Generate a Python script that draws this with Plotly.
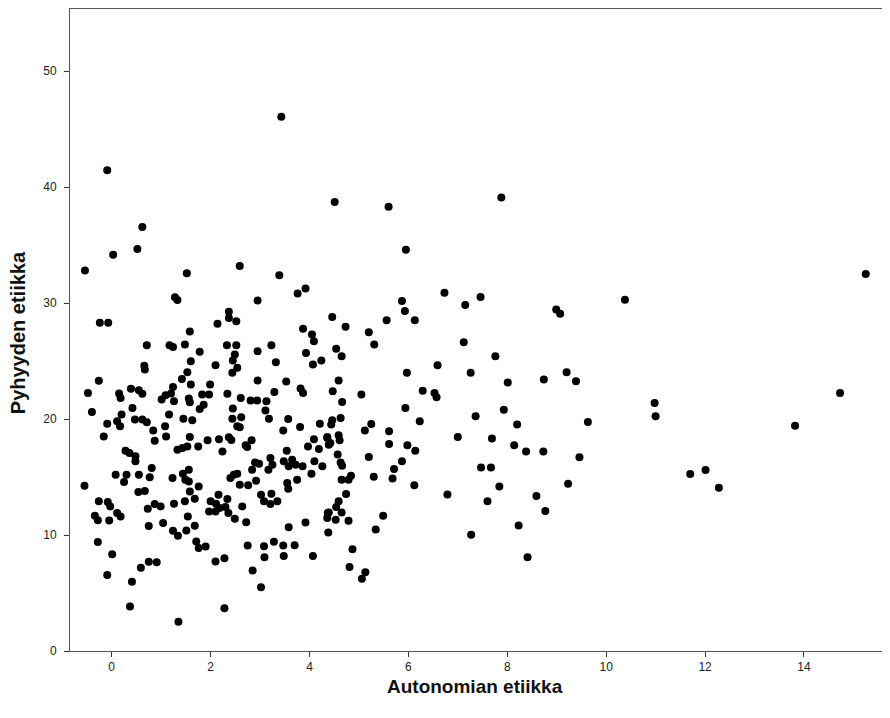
import plotly.graph_objects as go

autonomia = [
    3.43, -0.09, 0.62, 0.03, 0.52, -0.54, 1.52, 2.59, 3.39, 4.51, 5.6, 7.88, 5.95, 15.25,
    1.28, 1.33, -0.24, -0.07, 1.58, 0.71, 1.17, 1.24, 1.48, 1.78, 1.6, 0.66, 0.67, 1.53,
    1.42, -0.26, 1.6, 1.24, -0.48, 0.15, 0.18, 0.39, 0.55, 0.62, 1.09, 1.2, 1.01, 1.26,
    1.56, 1.58, 1.78, -0.4, 0.42, 0.2, 1.16, 1.45, 1.63, -0.09, 0.11, 0.17, 0.47, 0.62,
    0.71, 0.84, 1.08, -0.16, 0.87, 1.1, 1.58, 1.33, 1.43, 1.53, 0.28, 0.36, 1.75,
    0.48, 0.48, 0.81, 0.08, 0.3, 0.25, 0.55, 0.77, -0.55, 1.23, 1.44, 1.56, 1.49, 1.56,
    1.58, 1.76, 0.54, 0.67, -0.26, -0.08, -0.03, 1.26, 1.48, 1.68, 0.73, 0.87, 0.99,
    -0.34, -0.28, -0.05, 0.11, 0.18, 1.54, 0.75, 1.04, 1.24, 1.34, 1.51, 1.68, 1.71,
    1.76, -0.28, 0.01, -0.09, 0.59, 0.75, 0.91, 0.41, 0.37, 1.35,
    3.76, 3.92, 2.95, 2.37, 2.37, 2.52, 2.14, 4.46, 3.87, 4.05, 4.09, 2.33, 2.52, 2.49,
    2.45, 2.54, 2.44, 2.95, 3.23, 3.32, 3.93, 4.07, 4.24, 2.1, 2.95, 3.53, 1.99, 3.82,
    3.87, 3.29, 2.34, 1.83, 1.97, 1.86, 2.61, 2.81, 2.94, 3.13, 2.45, 3.11, 3.18, 2.44,
    2.62, 2.54, 2.59, 3.57, 3.47, 3.81, 4.21, 4.36, 4.42, 4.09, 4.19, 3.97, 1.94, 2.17,
    2.37, 2.42, 2.24, 2.71, 2.83, 2.74, 3.54,
    3.21, 2.9, 2.98, 2.84, 3.17, 3.25, 3.48, 3.65, 3.72, 3.86, 3.58, 4.1, 4.26, 4.04,
    2.4, 2.47, 2.54, 2.59, 2.76, 2.92, 3.55, 3.57, 3.75, 2.16, 2.0, 2.11, 2.34, 1.97,
    2.1, 2.18, 2.3, 2.36, 3.02, 3.23, 3.08, 3.21, 3.35, 2.64, 2.49, 2.72, 3.58, 3.92,
    4.37, 4.36, 4.38, 1.9, 2.75, 3.08, 3.28, 3.47, 3.7, 2.1, 2.28, 3.09, 3.48, 4.07,
    2.85, 3.02, 2.28,
    6.73, 7.46, 5.87, 5.93, 7.15, 5.56, 6.13, 4.73, 5.2, 5.31, 7.12, 4.54, 4.65, 7.76,
    6.59, 5.97, 7.26, 8.01, 4.59, 4.47, 5.05, 6.29, 6.53, 6.57, 4.66, 5.94, 7.93, 4.63,
    4.46, 4.44, 6.23, 7.36, 8.2, 5.25, 5.12, 5.61, 4.36, 4.59, 4.61, 4.39, 5.61, 5.98,
    6.14, 7.0, 7.69, 8.14,
    4.57, 4.63, 4.66, 5.2, 5.87, 5.71, 5.68, 5.3, 4.65, 4.79, 4.84, 6.12, 4.74, 4.59,
    4.54, 4.39, 4.65, 4.53, 4.79, 6.79, 7.47, 7.67, 7.84, 7.6, 5.49, 5.34, 7.27, 4.87,
    4.81, 5.13, 5.06, 8.23,
    10.38, 8.99, 9.07, 9.2, 8.74, 9.39, 14.73, 10.98, 11.0, 9.63, 13.82, 8.38, 8.73,
    9.46, 11.7, 12.01, 12.28, 9.23, 8.59, 8.77, 8.41,
]

pyhyys = [
    46.06, 41.45, 36.56, 34.17, 34.66, 32.8, 32.56, 33.2, 32.4, 38.7, 38.3, 39.1, 34.6, 32.5,
    30.5, 30.26, 28.3, 28.3, 27.55, 26.37, 26.37, 26.2, 26.43, 25.8, 24.98, 24.6, 24.26, 24.04,
    23.46, 23.3, 22.97, 22.77, 22.25, 22.19, 21.82, 22.6, 22.48, 22.17, 22.05, 22.2, 21.68, 21.53,
    21.76, 21.44, 20.87, 20.6, 20.96, 20.38, 20.38, 20.03, 19.89, 19.6, 19.8, 19.37, 19.95, 19.95,
    19.72, 19.0, 19.37, 18.5, 18.13, 18.5, 18.45, 17.36, 17.5, 17.64, 17.27, 17.07, 17.64,
    16.78, 16.35, 15.78, 15.2, 15.2, 14.57, 15.2, 14.97, 14.25, 14.91, 15.28, 15.63, 14.77, 14.62,
    13.76, 14.19, 13.7, 13.79, 12.9, 12.84, 12.46, 12.69, 12.9, 13.13, 12.26, 12.67, 12.46,
    11.66, 11.28, 11.25, 11.89, 11.6, 11.6, 10.77, 11.03, 10.36, 9.93, 10.39, 10.79, 9.44,
    8.87, 9.39, 8.35, 6.56, 7.17, 7.69, 7.66, 5.98, 3.83, 2.53,
    30.83, 31.26, 30.22, 29.25, 28.72, 28.44, 28.21, 28.8, 27.78, 27.29, 26.71, 26.37, 26.37, 25.56,
    25.04, 24.41, 23.98, 25.85, 26.37, 24.9, 25.7, 24.7, 25.04, 24.64, 23.32, 23.23, 22.97, 22.63,
    22.25, 22.34, 22.17, 22.11, 22.11, 21.24, 21.81, 21.59, 21.59, 21.53, 20.9, 20.73, 20.03, 20.03,
    20.15, 19.37, 19.28, 20.0, 19.0, 19.32, 19.6, 18.45, 17.93, 18.25, 17.42, 17.64, 18.16, 18.25,
    18.42, 18.2, 17.21, 17.73, 18.16, 17.59, 17.27,
    16.63, 16.26, 16.15, 15.63, 15.63, 16.06, 16.35, 16.49, 16.06, 15.92, 15.92, 16.35, 15.92, 15.28,
    14.91, 15.2, 15.28, 14.34, 14.28, 14.68, 14.48, 13.99, 14.77, 13.47, 12.9, 12.69, 13.1, 12.03,
    12.03, 12.32, 12.41, 11.89, 13.47, 13.56, 12.9, 12.67, 12.9, 12.46, 11.4, 11.11, 10.66, 11.08,
    11.89, 11.46, 10.22, 9.0, 9.09, 9.04, 9.41, 9.09, 9.12, 7.71, 8.0, 8.09, 8.2, 8.2,
    6.94, 5.5, 3.69,
    30.89, 30.53, 30.17, 29.31, 29.82, 28.52, 28.52, 27.95, 27.49, 26.42, 26.62, 26.05, 25.42, 25.42,
    24.64, 23.98, 23.98, 23.14, 23.32, 22.4, 22.11, 22.43, 22.25, 21.88, 21.47, 20.96, 20.81, 20.09,
    19.89, 19.52, 19.8, 20.24, 19.52, 19.57, 19.02, 18.94, 18.37, 18.6, 18.16, 17.79, 17.85, 17.73,
    17.27, 18.45, 18.31, 17.73,
    16.95, 16.26, 15.98, 16.73, 16.35, 15.69, 14.88, 15.03, 14.77, 14.77, 15.11, 14.28, 13.53, 12.9,
    12.41, 11.94, 11.94, 11.31, 11.23, 13.5, 15.83, 15.83, 14.19, 12.9, 11.66, 10.48, 10.02, 8.78,
    7.25, 6.8, 6.22, 10.82,
    30.28, 29.45, 29.08, 24.04, 23.4, 23.26, 22.25, 21.39, 20.23, 19.75, 19.43, 17.21, 17.21,
    16.7, 15.26, 15.6, 14.08, 14.42, 13.36, 12.06, 8.09,
]

x_ticks = [0, 2, 4, 6, 8, 10, 12, 14]
y_ticks = [0, 10, 20, 30, 40, 50]
x_title = "Autonomian etiikka"
y_title = "Pyhyyden etiikka"

FONT = "Liberation Sans, Arial, sans-serif"

fig = go.Figure(go.Scatter(
    x=autonomia, y=pyhyys, mode="markers",
    marker=dict(color="black", size=8, line=dict(width=0)),
    showlegend=False,
))

axis_common = dict(
    showgrid=False, zeroline=False, showline=True, linecolor="#555555", linewidth=1,
    mirror=True, ticks="outside", ticklen=5, tickcolor="#333333",
    tickfont=dict(family=FONT, size=12, color="#222222"),
)

fig.update_layout(
    width=882, height=710,
    margin=dict(l=62, r=2, t=1, b=67),
    paper_bgcolor="white", plot_bgcolor="white",
    xaxis=dict(range=[-0.843, 15.70], tickvals=x_ticks, **axis_common),
    yaxis=dict(range=[0, 55.35], tickvals=y_ticks, ticklabelstandoff=5, **axis_common),
    annotations=[
        dict(text=x_title, xref="paper", yref="paper", x=0.495, y=0,
             xanchor="center", yanchor="middle", yshift=-35, showarrow=False,
             font=dict(family=FONT, size=19, color="#111111", weight="bold")),
        dict(text=y_title, xref="paper", yref="paper", x=0, y=0.495,
             xanchor="center", yanchor="middle", xshift=-52, textangle=-90,
             showarrow=False,
             font=dict(family=FONT, size=20, color="#111111", weight="bold")),
    ],
)

fig.write_html("out.html")
